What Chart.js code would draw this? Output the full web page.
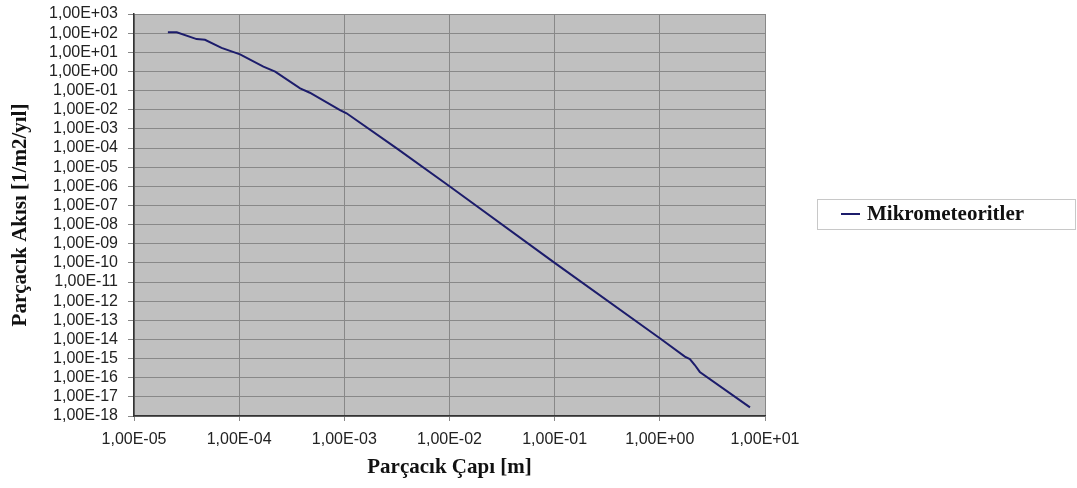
<!DOCTYPE html>
<html>
<head>
<meta charset="utf-8">
<script src="https://cdn.jsdelivr.net/npm/chart.js@4/dist/chart.umd.min.js"></script>
<style>
    html, body { margin: 0; padding: 0; background: #fff; }
    #wrap { width: 1077px; height: 488px; position: relative; }
</style>
</head>
<body>
<div id="wrap"><canvas id="fluxChart"></canvas></div>
<script>
// Particle flux vs diameter
const diameters = [2.1e-5, 2.55e-5, 3.94e-5, 4.73e-5, 6.8e-5, 1.02e-4, 1.7e-4, 2.2e-4, 3.8e-4, 4.7e-4,
    9.1e-4, 1.05e-3, 3.15e-3, 1e-2, 1e-1, 1, 1.73, 1.93, 2.15, 2.4, 7.2];
const fluxValues = [112, 110, 49, 45, 17, 7.8, 1.77, 0.97, 0.13, 0.077,
    0.0096, 0.0065, 9.6e-5, 1e-6, 1e-10, 1.15e-14, 1.26e-15, 9.5e-16, 4.6e-16, 2.0e-16, 2.8e-18];

const xTicks = [1e-5, 1e-4, 1e-3, 1e-2, 1e-1, 1e0, 1e1];
const xTickLabels = ['1,00E-05', '1,00E-04', '1,00E-03', '1,00E-02', '1,00E-01', '1,00E+00', '1,00E+01'];

const yTicks = [1e3, 1e2, 1e1, 1e0, 1e-1, 1e-2, 1e-3, 1e-4, 1e-5, 1e-6, 1e-7, 1e-8, 1e-9, 1e-10,
    1e-11, 1e-12, 1e-13, 1e-14, 1e-15, 1e-16, 1e-17, 1e-18];
const yTickLabels = ['1,00E+03', '1,00E+02', '1,00E+01', '1,00E+00', '1,00E-01', '1,00E-02', '1,00E-03',
    '1,00E-04', '1,00E-05', '1,00E-06', '1,00E-07', '1,00E-08', '1,00E-09', '1,00E-10', '1,00E-11',
    '1,00E-12', '1,00E-13', '1,00E-14', '1,00E-15', '1,00E-16', '1,00E-17', '1,00E-18'];

const seriesName = 'Mikrometeoritler';
const lineColor = '#1c1c6b';
const serif = "'Liberation Serif', 'Times New Roman', serif";
const sans = "'Liberation Sans', Arial, sans-serif";

// find label for a tick value (log comparison to avoid float issues)
function labelFor(values, labels, v) {
    const i = values.findIndex(t => Math.abs(Math.log10(t) - Math.log10(v)) < 1e-6);
    return i >= 0 ? labels[i] : '';
}

// grey plot area, drawn before the grid
const plotBackground = {
    id: 'plotBackground',
    beforeDraw(chart) {
        const { ctx, chartArea: a } = chart;
        ctx.save();
        ctx.fillStyle = '#c0c0c0';
        ctx.fillRect(a.left, a.top, a.right - a.left, a.bottom - a.top);
        ctx.restore();
    }
};

// boxed legend on the right, like the spreadsheet one
const boxLegend = {
    id: 'boxLegend',
    afterDraw(chart) {
        const ctx = chart.ctx;
        ctx.save();
        ctx.fillStyle = '#fff';
        ctx.fillRect(817.5, 199.5, 258, 30);
        ctx.strokeStyle = '#c8c8c8';
        ctx.lineWidth = 1;
        ctx.strokeRect(817.5, 199.5, 258, 30);
        ctx.strokeStyle = lineColor;
        ctx.lineWidth = 2;
        ctx.beginPath();
        ctx.moveTo(841, 214);
        ctx.lineTo(860, 214);
        ctx.stroke();
        ctx.fillStyle = '#111';
        ctx.font = "bold 21px " + serif;
        ctx.textBaseline = 'middle';
        ctx.fillText(chart.data.datasets[0].label, 867, 215);
        ctx.restore();
    }
};

new Chart(document.getElementById('fluxChart'), {
    type: 'scatter',
    data: {
        datasets: [{
            label: seriesName,
            data: diameters.map((d, i) => ({ x: d, y: fluxValues[i] })),
            showLine: true,
            borderColor: lineColor,
            borderWidth: 2,
            pointRadius: 0,
            tension: 0
        }]
    },
    options: {
        responsive: true,
        maintainAspectRatio: false,
        animation: false,
        layout: {
            padding: { left: 0, right: 312, top: 14, bottom: 0 }
        },
        plugins: {
            legend: { display: false },
            tooltip: { enabled: false }
        },
        scales: {
            x: {
                type: 'logarithmic',
                min: 1e-5,
                max: 10,
                afterBuildTicks: scale => { scale.ticks = xTicks.map(v => ({ value: v })); },
                afterFit: scale => { scale.height = 72; },
                ticks: {
                    autoSkip: false,
                    maxRotation: 0,
                    padding: 9,
                    color: '#222',
                    font: { family: sans, size: 16 },
                    callback: v => labelFor(xTicks, xTickLabels, v)
                },
                grid: {
                    color: '#888',
                    tickColor: '#888',
                    tickLength: 5
                },
                border: { color: '#333', width: 1.5 },
                title: {
                    display: true,
                    text: 'Parçacık Çapı [m]',
                    color: '#111',
                    font: { family: serif, size: 21, weight: 'bold' },
                    padding: { top: 0, bottom: 8 }
                }
            },
            y: {
                type: 'logarithmic',
                min: 1e-18,
                max: 1e3,
                afterBuildTicks: scale => { scale.ticks = yTicks.map(v => ({ value: v })); },
                afterFit: scale => {
                    scale.width = 134;
                    scale.paddingTop = 0;
                    scale.paddingBottom = 0;
                },
                ticks: {
                    autoSkip: false,
                    padding: 10,
                    color: '#222',
                    font: { family: sans, size: 16 },
                    callback: v => labelFor(yTicks, yTickLabels, v)
                },
                grid: {
                    color: '#888',
                    tickColor: '#888',
                    tickLength: 6
                },
                border: { color: '#333', width: 1.5 },
                title: {
                    display: true,
                    text: 'Parçacık Akısı [1/m2/yıl]',
                    color: '#111',
                    font: { family: serif, size: 21, weight: 'bold' },
                    padding: { top: 8, bottom: 0 }
                }
            }
        }
    },
    plugins: [plotBackground, boxLegend]
});
</script>
</body>
</html>
